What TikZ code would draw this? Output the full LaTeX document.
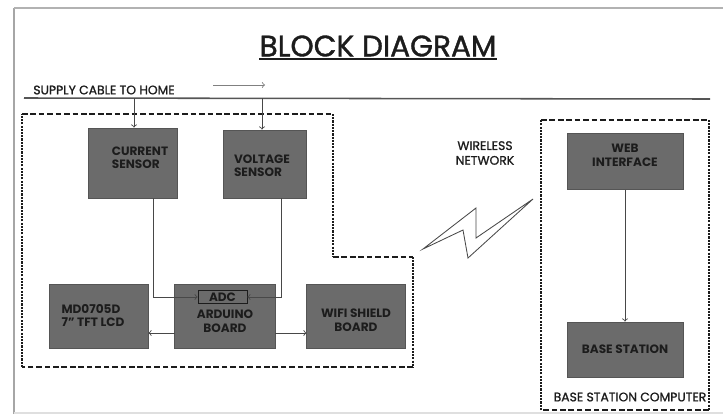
\documentclass[tikz,border=0pt]{standalone}
\usepackage{fontspec}
\setmainfont{Poppins}
\newfontfamily\labelfont[FakeBold=1.2]{Poppins}
\usetikzlibrary{positioning}
\definecolor{boxgray}{HTML}{6B6B6B}
\definecolor{edgegray}{HTML}{555555}
\definecolor{linegray}{HTML}{484848}
\definecolor{inkgray}{HTML}{1C1C1C}
\tikzset{
 block/.style={draw=edgegray,fill=boxgray,line width=.7pt,inner sep=0pt,text=inkgray,font=\fontsize{8.6}{10}\selectfont\bfseries,align=center},
 blocktext/.style={inner sep=0pt,text=inkgray,font=\fontsize{8.6}{10}\selectfont\bfseries},
 plaintext/.style={inner sep=0pt,text=inkgray,font=\labelfont\fontsize{8.8}{10.5}\selectfont},
 conn/.style={draw=linegray,line width=.6pt,->},
 zoneh/.style={draw=inkgray,line width=.9pt,dash pattern=on 4pt off 2pt},
 zonev/.style={draw=inkgray,line width=1pt,dash pattern=on 1.5pt off .8pt}
}
\begin{document}
\begin{tikzpicture}[x=.025cm,y=-.025cm]
 \useasboundingbox (0,0) rectangle (723,415);
 % page edge
 \draw[gray!70,line width=2pt] (14,414)--(14,8);
 \draw[gray!60,line width=1.4pt] (14,8)--(723,8);
 \draw[gray!25,line width=1.2pt] (14,413)--(723,413);
 % title
 \node[inner sep=0pt,text=inkgray,font=\labelfont\fontsize{21}{24}\selectfont] (title) at (378,46) {BLOCK DIAGRAM};
 \draw[inkgray,line width=1.4pt] (title.west |- 0,59)--(title.east |- 0,59);
 % supply cable
 \coordinate (cablea) at (24,98);
 \coordinate (cableb) at (710,99);
 \draw[edgegray,line width=1.1pt] (cablea)--(cableb);
 \node[plaintext] (cable) at (104,90) {SUPPLY CABLE TO HOME};
 \coordinate (flowa) at (213,85);
 \coordinate (flowb) at (265,85);
 \draw[conn,draw=gray] (flowa)--(flowb);
 % dashed zones
 \draw[zoneh] (22,114)--(333,114);
 \draw[zonev] (333,114)--(333,257);
 \draw[zoneh] (333,257)--(413,257);
 \draw[zonev] (413,257)--(413,367);
 \draw[zoneh] (413,367)--(22,367);
 \draw[zonev] (22,367)--(22,114);
 \draw[zoneh] (541,120)--(709,120);
 \draw[zonev] (709,120)--(709,410);
 \draw[zoneh] (709,410)--(541,410);
 \draw[zonev] (541,410)--(541,120);
 % blocks
 \node[block,minimum width=2.2cm,minimum height=1.75cm] (cur) at (133,163) {};
 \node[blocktext] (curtext) at (140,159) {\begin{tabular}{@{}l@{}}CURRENT\\[-1pt]SENSOR\end{tabular}};
 \node[block,minimum width=2.075cm,minimum height=1.7cm] (vol) at (264.5,164) {};
 \node[blocktext] (voltext) at (262,167) {\begin{tabular}{@{}l@{}}VOLTAGE\\[-1pt]SENSOR\end{tabular}};
 \node[block,minimum width=2.45cm,minimum height=1.6cm] (lcd) at (99,316) {};
 \node[blocktext] (lcdtext) at (93,317) {\begin{tabular}{@{}l@{}}MD0705D\\[-1pt]7" TFT LCD\end{tabular}};
 \node[block,minimum width=2.5cm,minimum height=1.6cm] (ard) at (225,316) {};
 \node[blocktext,align=center] (ardtext) at (225,321) {ARDUINO\\BOARD};
 \node[draw=inkgray,line width=.5pt,fill=boxgray,inner sep=0pt,minimum width=1.225cm,minimum height=.325cm,text=inkgray,font=\fontsize{8.6}{10}\selectfont\bfseries] (adc) at (222.5,297) {ADC};
 \node[block,minimum width=2.45cm,minimum height=1.6cm] (wifi) at (356,316) {};
 \node[blocktext,align=center] (wifitext) at (356,320) {WIFI SHIELD\\BOARD};
 \node[block,minimum width=2.9cm,minimum height=1.4cm] (web) at (625,161) {};
 \node[blocktext,align=center] (webtext) at (625,155) {WEB\\INTERFACE};
 \node[block,minimum width=2.9cm,minimum height=1.375cm] (base) at (625,349.5) {BASE STATION};
 % other labels
 \node[plaintext,align=center] (wireless) at (485,153) {WIRELESS\\NETWORK};
 \node[plaintext] (computer) at (630,397) {BASE STATION COMPUTER};
 % wireless link
 \draw[linegray,line width=.6pt,line join=miter] (423,249)--(476,208)--(476,238)--(533,199)--(468,258)--(463,230)--cycle;
 % connectors
 \coordinate (curin) at (134,98);
 \coordinate (volin) at (262,98);
 \coordinate (curout) at (153,198);
 \coordinate (volout) at (281,198);
 \coordinate (ardleft) at (175,333);
 \coordinate (ardright) at (275,333);
 \draw[conn] (curin)--(curin |- cur.north);
 \draw[conn] (volin)--(volin |- vol.north);
 \draw[conn] (curout) |- (adc.west);
 \draw[conn] (volout) |- (adc.east);
 \draw[conn] (ardleft)--(ardleft -| lcd.east);
 \draw[conn] (ardright)--(ardright -| wifi.west);
 \draw[conn] (web.south)--(base.north);
\end{tikzpicture}
\end{document}
